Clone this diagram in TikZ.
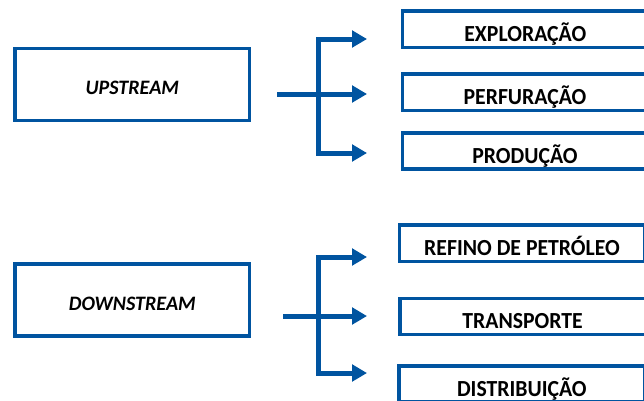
\documentclass[tikz,border=0pt]{standalone}
\usepackage{fontspec}
\setmainfont{Carlito}
\newfontfamily\subfont[FakeStretch=0.945]{Carlito}
\newfontfamily\mainfont[FakeStretch=0.98]{Carlito}
\usetikzlibrary{arrows.meta}
\definecolor{bl}{RGB}{0,84,160}
\begin{document}
\begin{tikzpicture}[x=1pt,y=-1pt,
  mainbox/.style={draw=bl,line width=3.4pt,inner sep=0pt,minimum width=234.7pt,minimum height=72pt,
    font=\mainfont\fontsize{20.5}{20.5}\selectfont\bfseries\itshape,text height=21.3pt,text depth=0pt},
  subbox/.style={draw=bl,line width=3.4pt,inner sep=0pt,minimum width=245.3pt,minimum height=36.3pt,
    font=\subfont\fontsize{23}{23}\selectfont\bfseries,text height=24.8pt,text depth=0pt},
  conn/.style={draw=bl,line width=5pt,line join=miter},
  tip/.tip={Triangle[length=15pt,width=16.5pt]}]
\useasboundingbox (0,0) rectangle (644,400);
\clip (0,0) rectangle (644,400);
% upstream
\node[mainbox] (up) at (132.3,84.3) {UPSTREAM};
\node[subbox] (e1) at (525.3,29.3) {EXPLORAÇÃO};
\node[subbox] (e2) at (525,92.3) {PERFURAÇÃO};
\node[subbox] (e3) at (525,151) {PRODUÇÃO};
\coordinate (us) at (277,94);
\coordinate (uj1) at (318,39);
\coordinate (uj3) at (318,153);
\coordinate (ua1) at (367,39);
\coordinate (ua2) at (367,94);
\coordinate (ua3) at (367,153);
\draw[conn,tip-tip] (ua1) -- (uj1) -- (uj3) -- (ua3);
\draw[conn,-tip] (us) -- (ua2);
% downstream
\node[mainbox] (down) at (132.3,300) {DOWNSTREAM};
\node[subbox] (d1) at (522,243.2) {REFINO DE PETRÓLEO};
\node[subbox] (d2) at (522.6,316.5) {TRANSPORTE};
\node[subbox] (d3) at (521.8,384) {DISTRIBUIÇÃO};
\coordinate (ds) at (283,316);
\coordinate (dj1) at (318,257);
\coordinate (dj3) at (318,373);
\coordinate (da1) at (367,257);
\coordinate (da2) at (367,316);
\coordinate (da3) at (367,373);
\draw[conn,tip-tip] (da1) -- (dj1) -- (dj3) -- (da3);
\draw[conn,-tip] (ds) -- (da2);
\end{tikzpicture}
\end{document}
